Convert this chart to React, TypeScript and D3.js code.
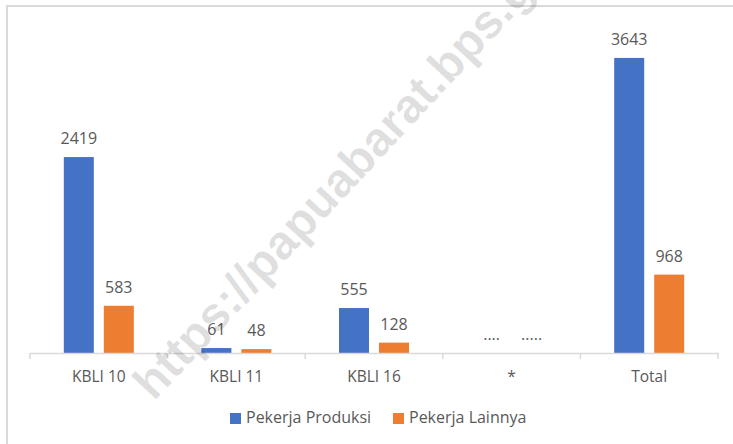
import React from "react";
import * as d3 from "d3";

const categories = ["KBLI 10", "KBLI 11", "KBLI 16", "*", "Total"];
const seriesNames = ["Pekerja Produksi", "Pekerja Lainnya"];
const produksi: (number | null)[] = [2419, 61, 555, null, 3643];
const lainnya: (number | null)[] = [583, 48, 128, null, 968];
const produksiLabels = ["2419", "61", "555", "....", "3643"];
const lainnyaLabels = ["583", "48", "128", ".....", "968"];
const colors = ["#4472C4", "#ED7D31"];
const watermark = "https://papuabarat.bps.go.id";

const W = 733;
const H = 444;
const FONT = "'Open Sans', sans-serif";
const TEXT = "#595959";
const GRID = "#d9d9d9";

export default function App() {
  const x = d3.scaleBand<string>().domain(categories).range([30, 718]).padding(0);
  const inner = d3.scaleBand<number>().domain([0, 1]).range([0, 70]).paddingInner(0.25).paddingOuter(0);
  const y = d3.scaleLinear().domain([0, 4000]).range([353, 29]);
  const series = [
    { name: seriesNames[0], values: produksi, labels: produksiLabels, color: colors[0] },
    { name: seriesNames[1], values: lainnya, labels: lainnyaLabels, color: colors[1] },
  ];
  const ticks = [...categories.map((c) => x(c)!), 718];

  return (
    <svg width={W} height={H} style={{ position: "absolute", left: 0, top: 0 }} fontFamily={FONT}>
      <rect x={0} y={0} width={W} height={H} fill="#fff" />
      <line x1={6} x2={W} y1={6} y2={6} stroke={GRID} strokeWidth={2} />
      <line x1={7} x2={7} y1={5} y2={H} stroke={GRID} strokeWidth={2} />

      {series.map((s, si) => (
        <g key={s.name}>
          {categories.map((c, ci) => {
            const cx = x(c)! + x.bandwidth() / 2 - 35;
            const bx = cx + inner(si)!;
            const v = s.values[ci];
            const top = y(v ?? 0);
            return (
              <g key={c}>
                {v != null && (
                  <rect x={bx} y={top} width={inner.bandwidth()} height={y(0) - top} fill={s.color} />
                )}
                <text x={bx + inner.bandwidth() / 2} y={top - 13} textAnchor="middle" fontSize={16} fill={TEXT}>
                  {s.labels[ci]}
                </text>
              </g>
            );
          })}
        </g>
      ))}

      <line x1={30} x2={719} y1={353.5} y2={353.5} stroke={GRID} strokeWidth={1.5} />
      {ticks.map((t, i) => (
        <line key={i} x1={t} x2={t} y1={353} y2={359} stroke={GRID} strokeWidth={1.5} />
      ))}
      {categories.map((c) => (
        <text key={c} x={x(c)! + x.bandwidth() / 2} y={382} textAnchor="middle" fontSize={15.5} fill={TEXT}>
          {c}
        </text>
      ))}

      <g>
        <rect x={230} y={413} width={11} height={11} fill={colors[0]} />
        <text x={246} y={423} fontSize={16} fill={TEXT}>{seriesNames[0]}</text>
        <rect x={393} y={413} width={11} height={11} fill={colors[1]} />
        <text x={409} y={423} fontSize={16} fill={TEXT}>{seriesNames[1]}</text>
      </g>

      <text
        transform="translate(154,402) rotate(-47)"
        fontFamily="'Liberation Sans', Arial, sans-serif"
        fontWeight="bold"
        fontSize={48}
        fill="#000"
        fillOpacity={0.12}
      >
        {watermark}
      </text>
    </svg>
  );
}
